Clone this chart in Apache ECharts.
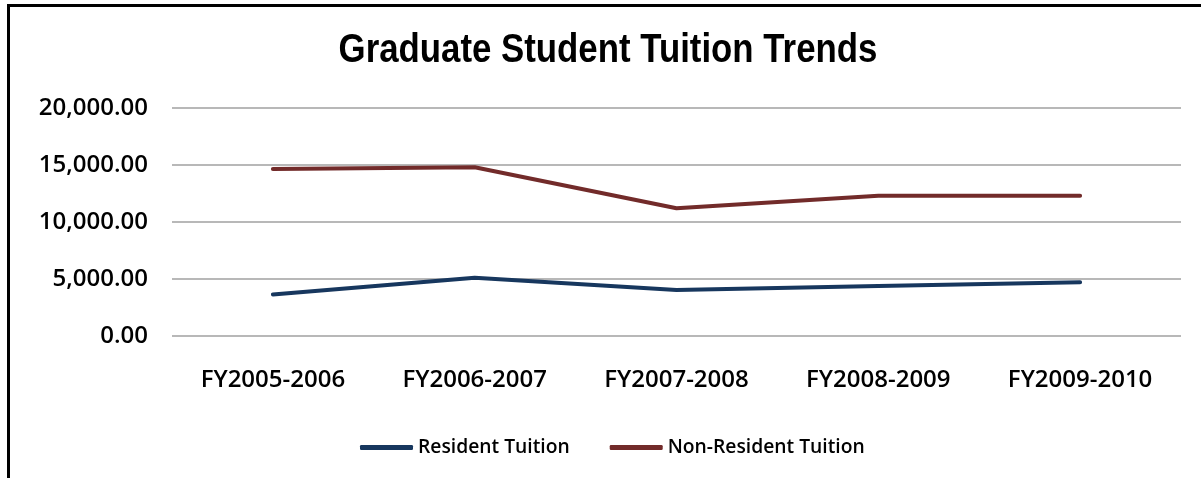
<!DOCTYPE html>
<html>
<head>
<meta charset="utf-8">
<script src="https://cdn.jsdelivr.net/npm/echarts@6/dist/echarts.min.js"></script>
<style>
html,body{margin:0;padding:0;background:#fff;}
#chart{width:1201px;height:478px;}
</style>
</head>
<body>
<div id="chart"></div>
<script>
const categories = ['FY2005-2006', 'FY2006-2007', 'FY2007-2008', 'FY2008-2009', 'FY2009-2010'];
const residentTuition = [3650, 5120, 4030, 4390, 4710];
const nonResidentTuition = [14650, 14800, 11200, 12310, 12310];
const seriesNames = ['Resident Tuition', 'Non-Resident Tuition'];
const chartTitle = 'Graduate Student Tuition Trends';
const yMin = 0, yMax = 20000, yInterval = 5000;

const labelFont = "'Open Sans', 'Noto Sans', sans-serif";
const chart = echarts.init(document.getElementById('chart'), null, {renderer: 'canvas'});
chart.setOption({
  backgroundColor: '#ffffff',
  animation: false,
  graphic: [
    {type: 'rect', shape: {x: 7, y: 4, width: 1194, height: 3}, style: {fill: '#000'}},
    {type: 'rect', shape: {x: 7, y: 4, width: 3, height: 474}, style: {fill: '#000'}},
    {
      type: 'text', x: 608, y: 51, scaleX: 0.87,
      style: {
        text: chartTitle,
        font: "bold 40px 'Liberation Sans', Arial, sans-serif",
        fill: '#000',
        textAlign: 'center',
        textVerticalAlign: 'middle'
      }
    }
  ],
  legend: {
    data: seriesNames,
    left: 355,
    top: 433,
    icon: 'roundRect',
    itemWidth: 53,
    itemHeight: 5,
    itemGap: 40,
    textStyle: {fontFamily: labelFont, fontSize: 19.3, fontWeight: 600, color: '#000'}
  },
  grid: {left: 172, right: 20, top: 108, height: 228, containLabel: false},
  xAxis: {
    type: 'category',
    data: categories,
    boundaryGap: true,
    axisLine: {show: false},
    axisTick: {show: false},
    axisLabel: {margin: 32, fontFamily: labelFont, fontSize: 24, fontWeight: 600, color: '#000'}
  },
  yAxis: {
    type: 'value',
    min: yMin, max: yMax, interval: yInterval,
    axisLine: {show: false},
    axisTick: {show: false},
    splitLine: {lineStyle: {color: '#a0a0a0', width: 1.5}},
    axisLabel: {
      margin: 24,
      fontFamily: labelFont, fontSize: 24, fontWeight: 600, color: '#000',
      formatter: v => v.toLocaleString('en-US', {minimumFractionDigits: 2, maximumFractionDigits: 2})
    }
  },
  series: [
    {
      name: seriesNames[0], type: 'line', data: residentTuition,
      showSymbol: false, symbol: 'none',
      itemStyle: {color: '#17375e'},
      lineStyle: {color: '#17375e', width: 4, cap: 'round', join: 'round'}
    },
    {
      name: seriesNames[1], type: 'line', data: nonResidentTuition,
      showSymbol: false, symbol: 'none',
      itemStyle: {color: '#722b2a'},
      lineStyle: {color: '#722b2a', width: 4, cap: 'round', join: 'round'}
    }
  ]
});
</script>
</body>
</html>
